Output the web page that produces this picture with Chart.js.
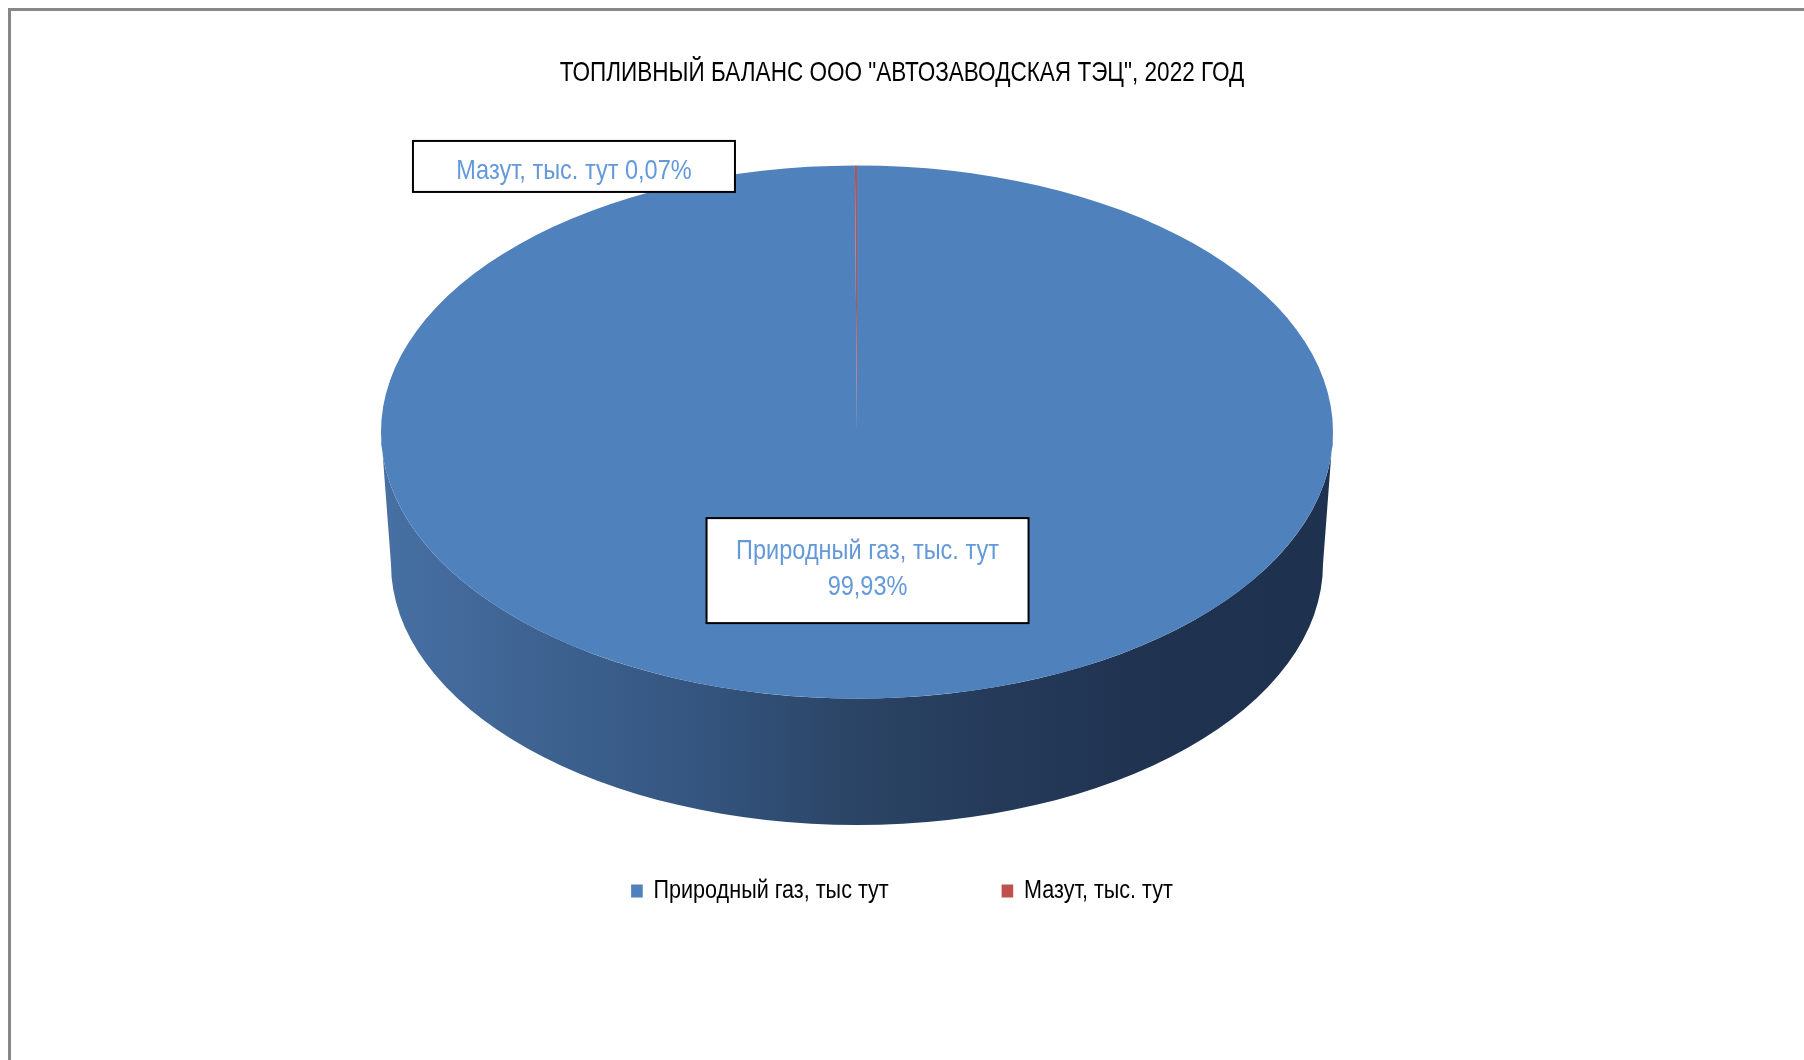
<!DOCTYPE html>
<html>
<head>
<meta charset="utf-8">
<script src="https://cdn.jsdelivr.net/npm/chart.js@4.4.1/dist/chart.umd.min.js"></script>
<style>
    html, body { margin: 0; padding: 0; background: #fff; overflow: hidden; }
    #wrap { position: relative; width: 1804px; height: 1060px; overflow: hidden; }
    #frame {
        position: absolute; left: 8px; top: 8px; width: 1900px; height: 1200px;
        border-left: 3px solid #878787; border-top: 3px solid #878787;
        pointer-events: none;
    }
</style>
</head>
<body>
<div id="wrap">
    <canvas id="pie"></canvas>
    <div id="frame"></div>
</div>
<script>
const chartTitle = 'ТОПЛИВНЫЙ БАЛАНС ООО "АВТОЗАВОДСКАЯ ТЭЦ", 2022 ГОД';
const categories = ["Природный газ, тыс тут", "Мазут, тыс. тут"];
const labelNames = ["Природный газ, тыс. тут", "Мазут, тыс. тут"];
const shares = [99.93, 0.07];
const sliceColors = ["#4F81BD", "#C0504D"];

const FONT = "'Liberation Sans', Arial, sans-serif";

// fake 3d: pie is squashed around this centre and gets a side wall
const pie3d = {
    centerX: 857,
    centerY: 432,
    tilt: 0.56,
    depth: 132,
    bottomShrink: 10,
};

// data label boxes, placed relative to their slice
const labelBoxes = [
    { frac: 0.52, dx: 10, dy: 0, w: 322, h: 105, twoLines: true },
    { frac: 1, dx: -282, dy: 1, w: 322, h: 51, twoLines: false },
];

// no narrow font installed, so text gets squeezed sideways
const titleSqueeze = 0.805;
const legendSqueeze = 0.83;
const labelSqueeze = 0.84;

function fmtPct(v) {
    return v.toFixed(2).replace(".", ",") + "%";
}

function sideRanges(s, e) {
    // parts of [s, e] that face the viewer (0..PI)
    let out = [];
    for (let k of [-2 * Math.PI, 0, 2 * Math.PI]) {
        let lo = Math.max(s, k);
        let hi = Math.min(e, k + Math.PI);
        if (hi > lo) out.push([lo - k, hi - k]);
    }
    return out;
}

function squeezeBox(box, chart, sx) {
    if (!box || box._squeezed) return;
    const draw = box.draw.bind(box);
    box.draw = function(area) {
        const ctx = chart.ctx;
        const cx = chart.width / 2;
        ctx.save();
        ctx.translate(cx, 0);
        ctx.scale(sx, 1);
        ctx.translate(-cx, 0);
        draw(area);
        ctx.restore();
    };
    box._squeezed = true;
}

const squeezePlugin = {
    id: "squeeze",
    beforeDraw(chart) {
        squeezeBox(chart.titleBlock, chart, titleSqueeze);
        squeezeBox(chart.legend, chart, legendSqueeze);
    },
};

const tiltPlugin = {
    id: "tilt3d",
    beforeDatasetsDraw(chart) {
        const ctx = chart.ctx;
        const arcs = chart.getDatasetMeta(0).data;
        const p = pie3d;

        arcs.forEach(function(arc, i) {
            const R = arc.outerRadius;
            const rb = R - p.bottomShrink;
            let fill;
            if (i === 0) {
                fill = ctx.createLinearGradient(p.centerX - R, 0, p.centerX + R, 0);
                fill.addColorStop(0, "#4770A3");
                fill.addColorStop(0.335, "#34557F");
                fill.addColorStop(0.49, "#2B4566");
                fill.addColorStop(0.65, "#253A59");
                fill.addColorStop(0.82, "#1F3250");
                fill.addColorStop(1, "#1E314F");
            } else {
                fill = "#7E2F2D";
            }
            for (let [lo, hi] of sideRanges(arc.startAngle, arc.endAngle)) {
                ctx.beginPath();
                ctx.ellipse(p.centerX, p.centerY, R, R * p.tilt, 0, lo, hi);
                ctx.ellipse(p.centerX, p.centerY + p.depth, rb, rb * p.tilt, 0, hi, lo, true);
                ctx.closePath();
                ctx.fillStyle = fill;
                ctx.fill();
            }
        });

        ctx.save();
        ctx.translate(p.centerX, p.centerY);
        ctx.scale(1, p.tilt);
        ctx.translate(-arcs[0].x, -arcs[0].y);
    },
    afterDatasetsDraw(chart) {
        chart.ctx.restore();
    },
};

function squeezedText(ctx, text, x, y) {
    ctx.save();
    ctx.translate(x, y);
    ctx.scale(labelSqueeze, 1);
    ctx.fillText(text, 0, 0);
    ctx.restore();
}

const labelPlugin = {
    id: "boxLabels",
    afterDraw(chart) {
        const ctx = chart.ctx;
        const arcs = chart.getDatasetMeta(0).data;
        ctx.save();
        ctx.font = "28px " + FONT;
        ctx.textAlign = "center";
        ctx.textBaseline = "middle";
        arcs.forEach(function(arc, i) {
            const b = labelBoxes[i];
            const mid = (arc.startAngle + arc.endAngle) / 2;
            const r = arc.outerRadius * b.frac;
            const x = pie3d.centerX + Math.cos(mid) * r + b.dx;
            const y = pie3d.centerY + Math.sin(mid) * r * pie3d.tilt + b.dy;

            ctx.fillStyle = "#fff";
            ctx.fillRect(x - b.w / 2, y - b.h / 2, b.w, b.h);
            ctx.lineWidth = 2;
            ctx.strokeStyle = "#000";
            ctx.strokeRect(x - b.w / 2, y - b.h / 2, b.w, b.h);

            ctx.fillStyle = "#6399DA";
            if (b.twoLines) {
                squeezedText(ctx, labelNames[i], x, y - 19);
                squeezedText(ctx, fmtPct(shares[i]), x, y + 17);
            } else {
                squeezedText(ctx, labelNames[i] + " " + fmtPct(shares[i]), x, y + 5);
            }
        });
        ctx.restore();
    },
};

new Chart("pie", {
    type: "pie",
    data: {
        labels: categories,
        datasets: [
            {
                data: shares,
                backgroundColor: sliceColors,
                borderWidth: 0,
                radius: 476,
                clip: false,
            },
        ],
    },
    options: {
        responsive: true,
        maintainAspectRatio: false,
        animation: false,
        events: [],
        layout: {
            padding: { top: 0, bottom: 146 },
        },
        plugins: {
            title: {
                display: true,
                text: chartTitle,
                color: "#000",
                font: { family: FONT, size: 28, weight: "normal" },
                padding: { top: 56, bottom: 10 },
            },
            legend: {
                position: "bottom",
                labels: {
                    color: "#000",
                    font: { family: FONT, size: 26 },
                    boxWidth: 14,
                    boxHeight: 13,
                    padding: 136,
                },
            },
            tooltip: { enabled: false },
        },
    },
    plugins: [squeezePlugin, tiltPlugin, labelPlugin],
});
</script>
</body>
</html>
